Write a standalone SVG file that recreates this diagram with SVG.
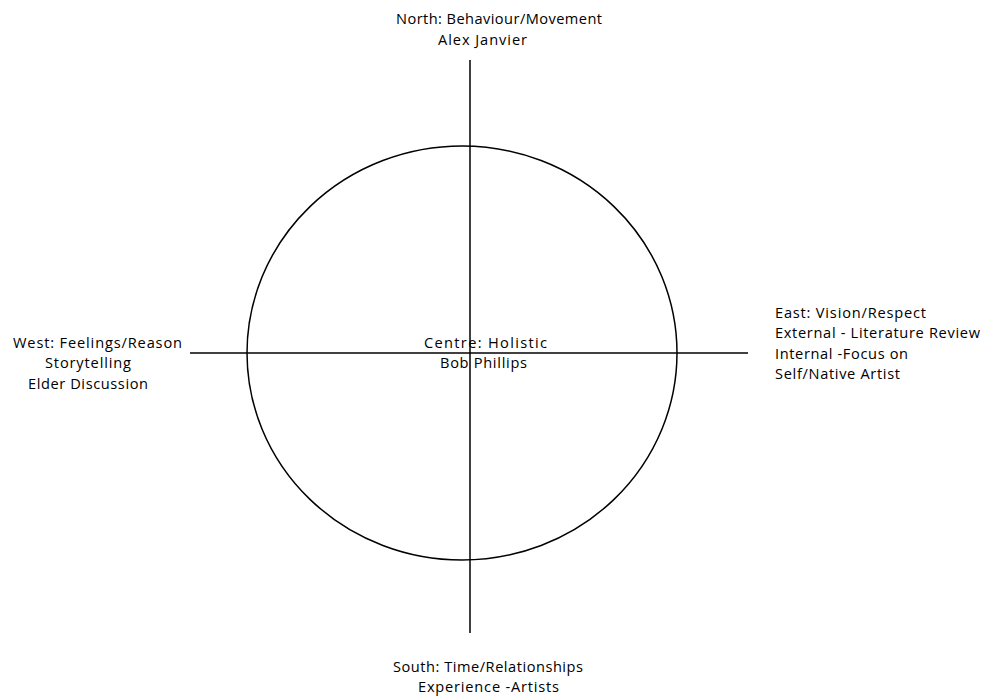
<svg xmlns="http://www.w3.org/2000/svg" width="987" height="696" viewBox="0 0 987 696">
<style>
text{font-family:"Open Sans","Liberation Sans",sans-serif;font-size:14.6px;fill:#000}
.ln{stroke:#000;stroke-width:1.5;fill:none}
</style>
<rect width="987" height="696" fill="#fff"/>
<g id="connectors">
<line class="ln" x1="470" y1="60" x2="470" y2="633"/>
<line class="ln" x1="190" y1="353" x2="748" y2="353"/>
</g>
<g id="circle"><ellipse class="ln" cx="462" cy="353" rx="215" ry="207"/></g>
<g id="north"><text x="396" y="24" textLength="206" lengthAdjust="spacing">North: Behaviour/Movement</text><text x="438" y="45" textLength="89" lengthAdjust="spacing">Alex Janvier</text></g>
<g id="west"><text x="13" y="348" textLength="169" lengthAdjust="spacing">West: Feelings/Reason</text><text x="45" y="368" textLength="86" lengthAdjust="spacing">Storytelling</text><text x="28" y="389" textLength="120" lengthAdjust="spacing">Elder Discussion</text></g>
<g id="east"><text x="775" y="318" textLength="151" lengthAdjust="spacing">East: Vision/Respect</text><text x="775" y="338" textLength="205" lengthAdjust="spacing">External - Literature Review</text><text x="775" y="359" textLength="133" lengthAdjust="spacing">Internal -Focus on</text><text x="775" y="379" textLength="125" lengthAdjust="spacing">Self/Native Artist</text></g>
<g id="centre"><text x="424" y="348" textLength="123" lengthAdjust="spacing">Centre: Holistic</text><text x="440" y="368" textLength="87" lengthAdjust="spacing">Bob Phillips</text></g>
<g id="south"><text x="393" y="672" textLength="190" lengthAdjust="spacing">South: Time/Relationships</text><text x="418" y="692" textLength="141" lengthAdjust="spacing">Experience -Artists</text></g>
</svg>
